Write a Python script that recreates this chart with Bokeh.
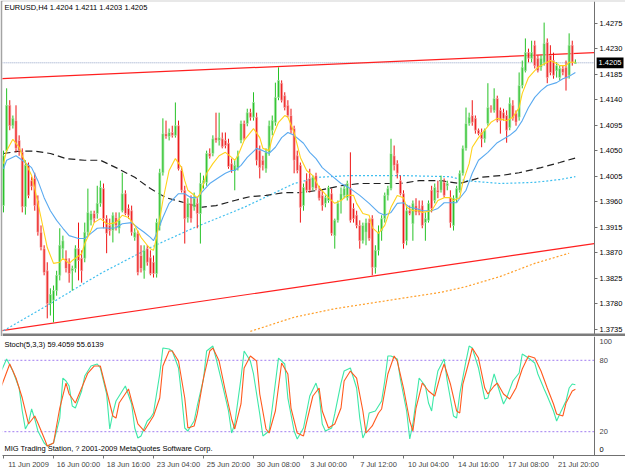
import numpy as np
from bokeh.plotting import figure
from bokeh.models import Range1d, LinearAxis, FixedTicker, Label, BoxAnnotation
from bokeh.layouts import column
from bokeh.embed import file_html
from bokeh.resources import INLINE

# ---------------- data (EURUSD H4) ----------------
bar_open = [1.3953,1.4050,1.4130,1.4094,1.4103,1.4068,1.4047,1.3951,1.4024,1.3997,1.4001,1.3962,1.3906,1.3877,1.3838,1.3780,1.3786,1.3803,1.3830,1.3877,
1.3860,1.3851,1.3838,1.3842,1.3877,1.3860,1.3860,1.3906,1.3927,1.3939,1.3939,1.3957,1.3983,1.3930,1.3918,1.3909,1.3932,1.3913,1.3944,1.3974,
1.3948,1.3944,1.3897,1.3904,1.3865,1.3838,1.3877,1.3861,1.3853,1.3833,1.3918,1.4011,1.4080,1.4075,1.4082,1.4077,1.4094,1.4015,1.3980,1.3932,
1.3957,1.3950,1.3957,1.3939,1.3992,1.3994,1.4045,1.4045,1.4073,1.4068,1.4071,1.4068,1.4063,1.4027,1.4015,1.4020,1.4068,1.4098,1.4098,1.4117,
1.4109,1.4109,1.4050,1.4033,1.4018,1.4047,1.4086,1.4100,1.4144,1.4169,1.4147,1.4130,1.4112,1.4089,1.4041,1.4024,1.3953,1.3997,1.4001,1.3985,
1.4006,1.3980,1.3971,1.3957,1.3962,1.3974,1.3900,1.3927,1.3962,1.3971,1.3967,1.3983,1.3948,1.3936,1.3918,1.3891,1.3906,1.3923,1.3930,1.3844,
1.3874,1.3909,1.3930,1.3971,1.3983,1.4041,1.4027,1.3997,1.3974,1.3891,1.3944,1.3921,1.3953,1.3948,1.3953,1.3923,1.3927,1.3980,1.3962,1.3980,
1.3980,1.3994,1.3988,1.3967,1.3918,1.3966,1.3980,1.4010,1.4054,1.4098,1.4112,1.4107,1.4086,1.4082,1.4071,1.4098,1.4126,1.4121,1.4142,1.4121,
1.4117,1.4112,1.4091,1.4130,1.4116,1.4109,1.4165,1.4191,1.4223,1.4213,1.4236,1.4213,1.4197,1.4206,1.4241,1.4218,1.4209,1.4191,1.4179,1.4195,
1.4197,1.4183,1.4236,1.4204]
bar_high = [1.4050,1.4160,1.4139,1.4112,1.4130,1.4077,1.4054,1.4033,1.4029,1.4004,1.4011,1.3971,1.3918,1.3883,1.3853,1.3807,1.3812,1.3838,1.3913,1.3900,
1.3874,1.3860,1.3847,1.3883,1.3923,1.3874,1.3923,1.3983,1.3944,1.3944,1.3988,1.3997,1.3992,1.3936,1.3930,1.3941,1.3941,1.3941,1.4011,1.3980,
1.3955,1.3953,1.3913,1.3909,1.3883,1.3883,1.3883,1.3874,1.3865,1.3930,1.4018,1.4107,1.4103,1.4089,1.4094,1.4135,1.4103,1.4022,1.3988,1.3966,
1.3971,1.3976,1.3966,1.4011,1.4006,1.4050,1.4054,1.4077,1.4117,1.4117,1.4082,1.4082,1.4071,1.4036,1.4033,1.4050,1.4103,1.4103,1.4124,1.4124,
1.4153,1.4117,1.4059,1.4041,1.4054,1.4103,1.4112,1.4170,1.4197,1.4174,1.4153,1.4139,1.4124,1.4094,1.4050,1.4029,1.3992,1.4010,1.4018,1.4006,
1.4011,1.3988,1.3980,1.3971,1.3988,1.3983,1.3930,1.3962,1.3985,1.3988,1.3997,1.4047,1.3957,1.3944,1.3927,1.3923,1.3930,1.3930,1.3936,1.3883,
1.3918,1.3936,1.3976,1.3988,1.4071,1.4059,1.4033,1.4006,1.3980,1.3953,1.3953,1.3962,1.3966,1.3962,1.3962,1.3941,1.3962,1.3988,1.3992,1.3997,
1.4006,1.4001,1.3997,1.3980,1.3971,1.3988,1.4015,1.4059,1.4126,1.4117,1.4139,1.4112,1.4089,1.4089,1.4089,1.4169,1.4130,1.4160,1.4147,1.4126,
1.4124,1.4121,1.4144,1.4139,1.4121,1.4188,1.4209,1.4248,1.4230,1.4244,1.4244,1.4218,1.4218,1.4276,1.4248,1.4236,1.4223,1.4206,1.4200,1.4200,
1.4209,1.4257,1.4244,1.4211]
bar_low = [1.3941,1.4047,1.4086,1.4089,1.4047,1.4041,1.3941,1.3937,1.3966,1.3980,1.3944,1.3900,1.3874,1.3830,1.3754,1.3759,1.3747,1.3794,1.3821,1.3860,
1.3835,1.3817,1.3803,1.3835,1.3821,1.3817,1.3853,1.3900,1.3918,1.3923,1.3930,1.3951,1.3913,1.3869,1.3900,1.3888,1.3909,1.3904,1.3941,1.3936,
1.3930,1.3900,1.3891,1.3830,1.3835,1.3824,1.3847,1.3830,1.3826,1.3826,1.3909,1.4006,1.4071,1.4068,1.4073,1.4073,1.4015,1.3976,1.3886,1.3923,
1.3923,1.3944,1.3913,1.3886,1.3983,1.3988,1.4036,1.4040,1.4064,1.4059,1.4054,1.4054,1.4018,1.4011,1.3980,1.4015,1.4063,1.4068,1.4093,1.4103,
1.4103,1.4024,1.4001,1.4015,1.4011,1.4041,1.4077,1.4094,1.4139,1.4135,1.4121,1.4109,1.4080,1.4010,1.4010,1.3923,1.3944,1.3976,1.3976,1.3980,
1.3980,1.3962,1.3944,1.3950,1.3958,1.3900,1.3877,1.3923,1.3939,1.3966,1.3962,1.3923,1.3923,1.3913,1.3877,1.3886,1.3883,1.3891,1.3830,1.3833,
1.3865,1.3891,1.3923,1.3962,1.3980,1.4015,1.4001,1.3971,1.3877,1.3883,1.3936,1.3891,1.3936,1.3936,1.3913,1.3891,1.3923,1.3941,1.3957,1.3966,
1.3976,1.3967,1.3980,1.3914,1.3909,1.3958,1.3976,1.4006,1.4050,1.4094,1.4094,1.4080,1.4077,1.4056,1.4064,1.4094,1.4117,1.4117,1.4100,1.4080,
1.4103,1.4064,1.4086,1.4103,1.4094,1.4103,1.4160,1.4188,1.4206,1.4206,1.4195,1.4188,1.4191,1.4200,1.4169,1.4183,1.4177,1.4179,1.4174,1.4183,
1.4156,1.4177,1.4200,1.4203]
bar_close = [1.4041,1.4130,1.4094,1.4107,1.4054,1.4050,1.3951,1.4024,1.3971,1.3987,1.3953,1.3906,1.3879,1.3835,1.3780,1.3796,1.3803,1.3830,1.3883,1.3891,
1.3842,1.3833,1.3842,1.3877,1.3856,1.3838,1.3906,1.3941,1.3939,1.3930,1.3957,1.3985,1.3930,1.3904,1.3909,1.3936,1.3918,1.3927,1.3974,1.3939,
1.3936,1.3906,1.3906,1.3835,1.3842,1.3874,1.3853,1.3833,1.3833,1.3923,1.4011,1.4080,1.4075,1.4082,1.4077,1.4094,1.4018,1.3980,1.3930,1.3957,
1.3930,1.3966,1.3939,1.3992,1.3997,1.4045,1.4040,1.4071,1.4068,1.4073,1.4057,1.4059,1.4022,1.4015,1.4024,1.4041,1.4098,1.4071,1.4117,1.4109,
1.4135,1.4033,1.4020,1.4024,1.4047,1.4094,1.4103,1.4144,1.4174,1.4139,1.4126,1.4112,1.4086,1.4033,1.4015,1.3950,1.3985,1.3980,1.3980,1.4003,
1.3983,1.3966,1.3953,1.3967,1.3985,1.3904,1.3927,1.3957,1.3974,1.3983,1.3992,1.3927,1.3930,1.3918,1.3891,1.3918,1.3923,1.3895,1.3844,1.3874,
1.3906,1.3930,1.3971,1.3983,1.4045,1.4024,1.4010,1.3974,1.3886,1.3944,1.3939,1.3957,1.3941,1.3941,1.3918,1.3930,1.3957,1.3948,1.3985,1.3976,
1.3997,1.3971,1.3992,1.3923,1.3966,1.3983,1.4010,1.4054,1.4098,1.4109,1.4100,1.4086,1.4080,1.4071,1.4086,1.4126,1.4124,1.4142,1.4103,1.4103,
1.4107,1.4086,1.4133,1.4107,1.4100,1.4165,1.4197,1.4223,1.4213,1.4223,1.4200,1.4191,1.4213,1.4239,1.4179,1.4188,1.4183,1.4200,1.4195,1.4188,
1.4177,1.4236,1.4206,1.4205]

# moving averages (bar index, price)
ma_fast_bars = [0,1,3,5,6,9,10,12,14,16,18,19,21,22,25,26,28,29,31,33,34,36,38,40,42,44,46,47,48,49,51,53,55,57,58,59,62,63,65,67,
69,71,73,74,75,77,80,82,83,85,86,88,90,91,93,95,97,99,101,104,106,108,110,112,113,115,117,118,120,122,124,126,128,129,131,133,134,137,139,141,
143,144,146,147,149,150,152,154,156,158,161,163,165,166,168,170,171,174,175,177,178,180,181,183]
ma_fast_vals = [1.4027,1.4050,1.4070,1.4056,1.4041,1.4006,1.3983,1.3932,1.3879,1.3851,1.3853,1.3860,1.3851,1.3856,1.3868,1.3886,1.3909,1.3923,1.3930,1.3921,
1.3921,1.3923,1.3936,1.3932,1.3918,1.3897,1.3883,1.3877,1.3874,1.3897,1.3962,1.4015,1.4036,1.4020,1.3997,1.3980,1.3967,1.3974,1.4010,1.4027,
1.4041,1.4047,1.4038,1.4033,1.4041,1.4068,1.4089,1.4073,1.4054,1.4050,1.4073,1.4100,1.4112,1.4109,1.4082,1.4038,1.4015,1.4006,1.3985,1.3967,
1.3957,1.3962,1.3971,1.3971,1.3957,1.3939,1.3936,1.3914,1.3904,1.3918,1.3950,1.3971,1.3967,1.3950,1.3944,1.3944,1.3941,1.3944,1.3962,1.3967,
1.3967,1.3962,1.3967,1.3994,1.4027,1.4056,1.4073,1.4086,1.4100,1.4107,1.4103,1.4109,1.4126,1.4151,1.4179,1.4191,1.4197,1.4206,1.4209,1.4204,
1.4200,1.4200,1.4206,1.4206]
ma_mid_bars = [0,1,4,6,9,11,13,15,17,19,21,24,26,28,30,32,34,36,38,41,43,45,47,48,49,51,53,56,58,60,62,64,66,69,71,73,74,76,78,81,
83,85,87,89,91,93,96,98,100,102,105,108,111,114,117,120,122,124,126,128,130,132,134,137,139,141,145,146,148,150,152,155,158,162,164,166,168,170,172,174,
177,179,181,183]
ma_mid_vals = [1.4018,1.4033,1.4041,1.4033,1.4020,1.3997,1.3967,1.3944,1.3927,1.3913,1.3900,1.3895,1.3895,1.3904,1.3913,1.3914,1.3913,1.3914,1.3921,1.3923,
1.3914,1.3906,1.3897,1.3891,1.3904,1.3932,1.3957,1.3974,1.3974,1.3967,1.3967,1.3980,1.3992,1.4003,1.4010,1.4015,1.4015,1.4024,1.4038,1.4054,
1.4050,1.4045,1.4056,1.4073,1.4082,1.4077,1.4063,1.4047,1.4036,1.4020,1.4006,1.3992,1.3983,1.3971,1.3957,1.3941,1.3936,1.3941,1.3957,1.3958,
1.3950,1.3948,1.3944,1.3944,1.3948,1.3958,1.3958,1.3966,1.3980,1.4010,1.4033,1.4047,1.4064,1.4077,1.4086,1.4103,1.4126,1.4144,1.4156,1.4165,
1.4170,1.4177,1.4181,1.4188]
ma_slow_bars = [0,5,10,15,20,26,31,36,42,47,52,58,63,68,74,79,84,90,95,101,108,114,121,127,133,140,146,153,159,165,172,178,183]
ma_slow_vals = [1.4045,1.4049,1.4049,1.4045,1.4036,1.4033,1.4033,1.4020,1.4003,1.3983,1.3967,1.3958,1.3950,1.3953,1.3962,1.3969,1.3971,1.3976,1.3976,1.3980,
1.3988,1.3992,1.3992,1.3992,1.3997,1.3997,1.3992,1.4003,1.4006,1.4011,1.4020,1.4029,1.4037]
ma_long_bars = [0,15,31,47,61,77,93,101,111,127,143,148,159,170,178,183]
ma_long_vals = [1.3732,1.3780,1.3833,1.3879,1.3914,1.3950,1.3992,1.4003,1.4006,1.4006,1.4004,1.3997,1.3992,1.3994,1.3999,1.4004]
ma_xlong_bars = [79,93,106,127,140,148,159,170,181]
ma_xlong_vals = [1.3731,1.3756,1.3771,1.3789,1.3800,1.3810,1.3828,1.3851,1.3869]

# trend lines (bar index, price)
trend_upper_bars = [-1, 189]
trend_upper_vals = [1.4177, 1.4223]
trend_lower_bars = [-1, 189]
trend_lower_vals = [1.3732, 1.3886]

last_price = 1.4205
last_price_label = "1.4205"

# stochastic (5,3,3)
stoch_k_bars = [-1,1,3,5,6,7,8,9,10,11,13,14,16,18,19,20,21,22,23,25,26,28,30,31,33,34,35,36,39,41,42,43,44,46,47,48,50,51,53,54,
56,57,58,59,61,62,64,65,67,68,70,72,73,74,76,77,79,80,82,83,85,86,88,90,91,93,94,96,98,100,101,102,103,105,106,108,109,111,113,114,
115,116,117,119,121,122,123,124,126,127,129,130,131,132,133,135,136,137,138,139,141,142,144,145,146,148,149,150,152,154,155,157,158,160,161,163,165,166,168,170,
171,173,174,176,177,178,180,181,182,183]
stoch_k_vals = [69.3,81.1,71.0,56.7,37.4,22.3,27.3,39.1,30.7,20.6,10.5,8.0,10.5,31.5,65.1,62.6,58.4,41.6,39.9,54.2,
66.8,75.2,76.9,73.5,51.7,22.3,35.7,45.8,58.4,43.3,23.1,14.7,16.4,29.0,31.5,35.7,68.5,90.3,89.5,87.8,
73.5,50.0,23.1,20.6,29.0,41.6,64.3,87.8,92.0,81.9,60.1,37.4,18.9,26.5,65.1,87.8,79.4,68.5,34.9,16.4,
20.6,39.9,81.9,76.9,48.3,20.6,13.9,23.1,50.0,60.9,51.7,26.5,20.6,23.1,34.9,60.9,71.0,73.5,56.7,31.5,
14.7,20.6,35.7,37.4,45.8,62.6,83.6,83.6,81.1,64.3,37.4,13.9,26.5,45.8,65.1,58.4,44.1,37.4,56.7,71.0,
81.1,62.6,33.2,31.5,51.7,79.4,92.0,90.3,73.5,47.5,48.3,68.5,60.1,43.3,48.3,62.6,69.3,85.3,81.9,77.7,
68.5,55.9,50.0,37.4,29.0,34.9,45.8,56.7,60.1,59.4]
stoch_d_bars = [-1,2,4,6,8,10,11,13,14,16,18,20,21,23,25,27,29,31,33,35,36,37,40,41,43,45,46,48,50,51,53,54,56,58,59,61,62,64,66,67,
69,71,73,74,76,77,79,81,82,84,85,87,89,91,92,94,96,97,99,101,102,104,106,108,109,111,113,115,116,118,120,121,123,125,126,128,130,131,132,134,
136,138,140,141,143,145,146,147,149,150,152,154,155,157,158,160,162,164,166,168,170,172,174,176,177,179,180,182,183]
stoch_d_vals = [55.9,76.9,65.1,48.3,26.5,33.2,27.3,14.7,8.0,10.5,39.9,60.9,51.7,44.1,56.7,69.3,75.2,75.2,54.2,33.2,
31.5,44.1,55.9,45.8,26.5,20.6,24.8,33.2,48.3,75.2,87.8,87.8,79.4,48.3,23.1,24.8,34.9,65.1,87.8,90.3,
79.4,54.2,30.7,22.3,43.3,73.5,83.6,79.4,51.7,22.3,18.9,37.4,77.7,68.5,39.9,18.9,16.4,28.0,50.0,56.7,
37.4,23.1,26.5,39.9,62.6,71.0,65.1,37.4,18.9,24.8,35.7,39.1,68.5,83.6,79.4,56.7,29.0,20.6,39.9,60.9,
54.2,50.0,69.3,76.9,60.1,37.4,35.7,60.1,79.4,90.3,81.9,56.7,51.7,58.4,60.9,51.7,47.5,56.7,72.7,83.6,
81.9,71.0,56.7,43.3,34.9,33.2,44.1,54.2,55.6]
stoch_levels = [20, 80]

price_ticks = [1.3735,1.3780,1.3825,1.3870,1.3915,1.3960,1.4005,1.4050,1.4095,1.4140,1.4185,1.4230,1.4275]
price_tick_labels = ["1.3735","1.3780","1.3825","1.3870","1.3915","1.3960","1.4005","1.4050","1.4095","1.4140","1.4185","1.4230","1.4275"]
stoch_tick_labels = ["20", "80", "100"]
stoch_zero_label = "0"
date_tick_bars = [0,16,32,48,64,80,96,112,128,144,160,176]
date_tick_labels = ["11 Jun 2009","16 Jun 00:00","18 Jun 16:00","23 Jun 04:00","25 Jun 20:00","30 Jun 08:00",
                    "3 Jul 00:00","7 Jul 12:00","10 Jul 04:00","14 Jul 16:00","17 Jul 08:00","21 Jul 20:00"]

title_main = "EURUSD,H4  1.4204 1.4211 1.4203 1.4205"
title_stoch = "Stoch(5,3,3) 59.4059 55.6139"
copyright_text = "MIG Trading Station, ? 2001-2009 MetaQuotes Software Corp."

FONT = "Liberation Sans"
FS = "7.5px"
AXIS_AT = 189.12        # bar position of the price scale edge
X_END = 199.36          # right end of the window
Y_BOTTOM = 1.37220      # bottom of main window (incl. separator)
Y_SEP = 1.37273         # top of separator band

# ---------------- main price pane ----------------
o = np.array(bar_open); h = np.array(bar_high); l = np.array(bar_low); c = np.array(bar_close)
bars = np.arange(len(c))
up = c >= o
col = np.where(up, "#26c226", "#ee1414")
halo = np.where(up, "#a6e4a6", "#f6a8a8")

xr = Range1d(-0.32, X_END)
p = figure(frame_width=624, frame_height=335, x_range=xr, y_range=Range1d(Y_BOTTOM, 1.43132),
           x_axis_location=None, y_axis_location=None, output_backend="svg", toolbar_location=None,
           min_border_left=2, min_border_right=0, min_border_top=1, min_border_bottom=0)
p.grid.visible = False
p.outline_line_color = None
p.background_fill_color = "white"
p.border_fill_color = "#a4a4a4"

p.line([-1, AXIS_AT], [last_price, last_price], line_color="#8f9fc4", line_dash="1 1", line_width=1)

p.line(trend_upper_bars, trend_upper_vals, line_color="#ff2020", line_width=1.2)
p.line(trend_lower_bars, trend_lower_vals, line_color="#ff2020", line_width=1.2)
p.line(ma_long_bars, ma_long_vals, line_color="#3fbfef", line_width=1.2, line_dash="2 2")
p.line(ma_xlong_bars, ma_xlong_vals, line_color="#ff9f2a", line_width=1.2, line_dash="2 2")
p.line(ma_slow_bars, ma_slow_vals, line_color="#202020", line_width=1.2, line_dash="7 4")

p.segment(x0=bars, y0=l, x1=bars, y1=h, line_color=col, line_width=1)
p.vbar(x=bars, top=np.maximum(o, c), bottom=np.minimum(o, c), width=0.62,
       fill_color=col, line_color=halo, line_width=0.8)

p.line(ma_mid_bars, ma_mid_vals, line_color="#5aaaf0", line_width=1.1)
p.line(ma_fast_bars, ma_fast_vals, line_color="#ffd21a", line_width=1.1)

pax = LinearAxis(ticker=FixedTicker(ticks=price_ticks), fixed_location=AXIS_AT,
                 major_label_overrides={t: s for t, s in zip(price_ticks, price_tick_labels)},
                 major_label_text_font=FONT, major_label_text_font_size=FS, major_label_text_color="black",
                 major_tick_out=3, major_tick_in=0, minor_tick_line_color=None,
                 axis_line_color="#707070", major_tick_line_color="#707070", major_label_standoff=2)
p.add_layout(pax, "right")

# last price marker on the scale
p.rect(x=[194.1], y=[last_price], width=8.6, height=0.0019, fill_color="black", line_color=None)
p.text(x=[194.1], y=[last_price], text=[last_price_label], text_color="white", text_align="center",
       text_baseline="middle", text_font_size=FS, text_font={"value": FONT})

# pane separator band
p.add_layout(BoxAnnotation(bottom=Y_BOTTOM, top=Y_SEP, fill_color="#7c7c7c", fill_alpha=1.0, line_color=None))

p.add_layout(Label(x=0.3, y=1.4303, text=title_main, text_font=FONT, text_font_size=FS,
                   text_baseline="middle", text_color="black"))

# ---------------- stochastic pane ----------------
s = figure(frame_width=624, frame_height=119, x_range=xr, y_range=Range1d(0, 100),
           x_axis_location=None, y_axis_location=None, output_backend="svg", toolbar_location=None,
           min_border_left=2, min_border_right=0, min_border_top=0, min_border_bottom=0)
s.grid.visible = False
s.outline_line_color = None
s.background_fill_color = "white"
s.border_fill_color = "white"
for lv in stoch_levels:
    s.line([-1, AXIS_AT], [lv, lv], line_color="#a07cf0", line_dash="2 2", line_width=1)
s.line(stoch_k_bars, stoch_k_vals, line_color="#3ee8a8", line_width=1.1)
s.line(stoch_d_bars, stoch_d_vals, line_color="#ff5a1e", line_width=1.1)

stoch_label_pos = [20, 80, 96]
sax = LinearAxis(ticker=FixedTicker(ticks=stoch_label_pos), fixed_location=AXIS_AT,
                 major_label_overrides={t: s_ for t, s_ in zip(stoch_label_pos, stoch_tick_labels)},
                 major_label_text_font=FONT, major_label_text_font_size=FS,
                 major_tick_out=0, major_tick_in=0, minor_tick_line_color=None,
                 axis_line_color="#707070", major_label_standoff=5)
s.add_layout(sax, "right")
# bottom label of the oscillator scale
s.text(x=[AXIS_AT + 1.6], y=[5.0], text=[stoch_zero_label], text_color="black", text_align="left",
       text_baseline="middle", text_font_size=FS, text_font={"value": FONT})

off = 8
xax = LinearAxis(ticker=FixedTicker(ticks=[b + off for b in date_tick_bars], minor_ticks=date_tick_bars),
                 major_label_overrides={b + off: t for b, t in zip(date_tick_bars, date_tick_labels)},
                 major_label_text_font=FONT, major_label_text_font_size=FS,
                 major_tick_out=0, major_tick_in=0, minor_tick_out=3, minor_tick_in=0,
                 minor_tick_line_color="#707070", axis_line_color="#707070", major_label_standoff=1)
s.add_layout(xax, "below")

s.add_layout(Label(x=0.3, y=93.5, text=title_stoch, text_font=FONT, text_font_size=FS,
                   text_baseline="middle", text_color="black"))
s.add_layout(Label(x=0.3, y=5.5, text=copyright_text, text_font=FONT, text_font_size=FS,
                   text_baseline="middle", text_color="black"))

layout = column(p, s)
open("out.html", "w").write(file_html(layout, INLINE))
